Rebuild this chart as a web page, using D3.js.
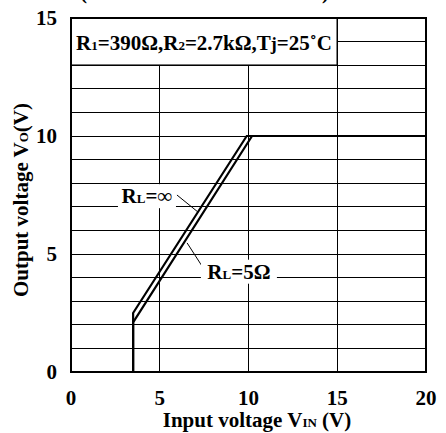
<!DOCTYPE html>
<html>
<head>
<meta charset="utf-8">
<script src="https://cdn.jsdelivr.net/npm/d3@7"></script>
<style>
  body { margin: 0; background: #fff; }
  text { font-family: "Liberation Serif", "Times New Roman", serif; font-weight: bold; fill: #000; }
</style>
</head>
<body>
<svg id="chart" width="446" height="433"></svg>
<script>
// values
const x_ticks = [0, 5, 10, 15, 20]
const y_ticks = [0, 5, 10, 15]
const x_grid = [5, 10, 15]
const y_grid = d3.range(1, 15)

// VIN, VO for the two loads
const vin_inf = [3.5, 3.5, 9.9, 20]
const vo_inf  = [0, 2.5, 10, 10]
const vin_5   = [3.5, 3.5, 10.2, 20]
const vo_5    = [0, 2.1, 10, 10]

// label anchor points, in volts
const labels = [
  {head: "R", sub: "L", tail: "=∞", at: [4.28, 7.45], w: 58, leader: [[5.97, 7.5], [7.15, 6.78]]},
  {head: "R", sub: "L", tail: "=5Ω", at: [9.46, 4.25], w: 76, leader: [[6.54, 5.47], [7.38, 4.49]]}
]

let margin = {top: 18, left: 71, right: 20, bottom: 61}
let width = 446, height = 433
let fs = "21px", sub_fs = "13px"

let x = d3.scaleLinear().domain([0, 20]).range([margin.left, width - margin.right])
let y = d3.scaleLinear().domain([0, 15]).range([height - margin.bottom, margin.top])

let svg = d3.select("#chart")

// grid
let grid = svg.append("g").attr("stroke", "#000").attr("stroke-width", 1).attr("shape-rendering", "crispEdges")
grid.selectAll(".gx").data(x_grid).enter().append("line")
  .attr("x1", d => x(d)).attr("x2", d => x(d))
  .attr("y1", y(0)).attr("y2", y(15))
grid.selectAll(".gy").data(y_grid).enter().append("line")
  .attr("x1", x(0)).attr("x2", x(20))
  .attr("y1", d => y(d)).attr("y2", d => y(d))

// curves
let line = d3.line().x(d => x(d[0])).y(d => y(d[1]))
let curves = [d3.zip(vin_inf, vo_inf), d3.zip(vin_5, vo_5)]
svg.append("g").selectAll("path").data(curves).enter().append("path")
  .attr("d", line)
  .attr("fill", "none")
  .attr("stroke", "#000")
  .attr("stroke-width", 2.2)

// condition box
svg.append("rect")
  .attr("x", x(0)).attr("y", y(15))
  .attr("width", x(15) - x(0)).attr("height", y(13) - y(15))
  .attr("fill", "#fff").attr("stroke", "#000").attr("stroke-width", 1.5)

let cond = svg.append("text").attr("x", x(0) + 5).attr("y", y(14) + 8).style("font-size", fs)
cond.append("tspan").text("R")
cond.append("tspan").text("1").style("font-size", sub_fs)
cond.append("tspan").text("=390Ω,R")
cond.append("tspan").text("2").style("font-size", sub_fs)
cond.append("tspan").text("=2.7kΩ,T")
cond.append("tspan").text("j").style("font-size", "18px")
cond.append("tspan").text("=25˚C")

// leaders and load labels
svg.append("g").selectAll("line").data(labels).enter().append("line")
  .attr("x1", d => x(d.leader[0][0])).attr("y1", d => y(d.leader[0][1]))
  .attr("x2", d => x(d.leader[1][0])).attr("y2", d => y(d.leader[1][1]))
  .attr("stroke", "#000").attr("stroke-width", 1)

let lab = svg.append("g").selectAll("g").data(labels).enter().append("g")
  .attr("transform", d => `translate(${x(d.at[0])},${y(d.at[1])})`)
lab.append("rect")
  .attr("x", d => -d.w / 2).attr("y", -12)
  .attr("width", d => d.w).attr("height", 24)
  .attr("fill", "#fff")
let lt = lab.append("text").attr("text-anchor", "middle").attr("y", 7).style("font-size", fs)
lt.append("tspan").text(d => d.head)
lt.append("tspan").text(d => d.sub).style("font-size", sub_fs)
lt.append("tspan").text(d => d.tail)

// frame
svg.append("rect")
  .attr("x", x(0)).attr("y", y(15))
  .attr("width", x(20) - x(0)).attr("height", y(0) - y(15))
  .attr("fill", "none").attr("stroke", "#000").attr("stroke-width", 2)

// tick labels
svg.append("g").selectAll("text").data(x_ticks).enter().append("text")
  .attr("x", d => x(d)).attr("y", y(0) + 33)
  .attr("text-anchor", "middle")
  .style("font-size", fs)
  .text(d => d)
svg.append("g").selectAll("text").data(y_ticks).enter().append("text")
  .attr("x", x(0) - 14).attr("y", d => y(d) + 7)
  .attr("text-anchor", "end")
  .style("font-size", fs)
  .text(d => d)

// axis titles
let xt = svg.append("text").attr("x", 257).attr("y", 427).attr("text-anchor", "middle").style("font-size", fs)
xt.append("tspan").text("Input voltage V")
xt.append("tspan").text("IN").style("font-size", sub_fs)
xt.append("tspan").text(" (V)")

let yt = svg.append("text").attr("transform", "translate(28,200) rotate(-90)").attr("text-anchor", "middle").style("font-size", fs)
yt.append("tspan").text("Output voltage V")
yt.append("tspan").text("O").style("font-size", sub_fs)
yt.append("tspan").text("(V)")

// title above the frame is cut by the page edge, only the parentheses show
svg.append("text").attr("x", 80).attr("y", -1).style("font-size", fs).text("(")
svg.append("text").attr("x", 322).attr("y", -1).style("font-size", fs).text(")")
</script>
</body>
</html>
